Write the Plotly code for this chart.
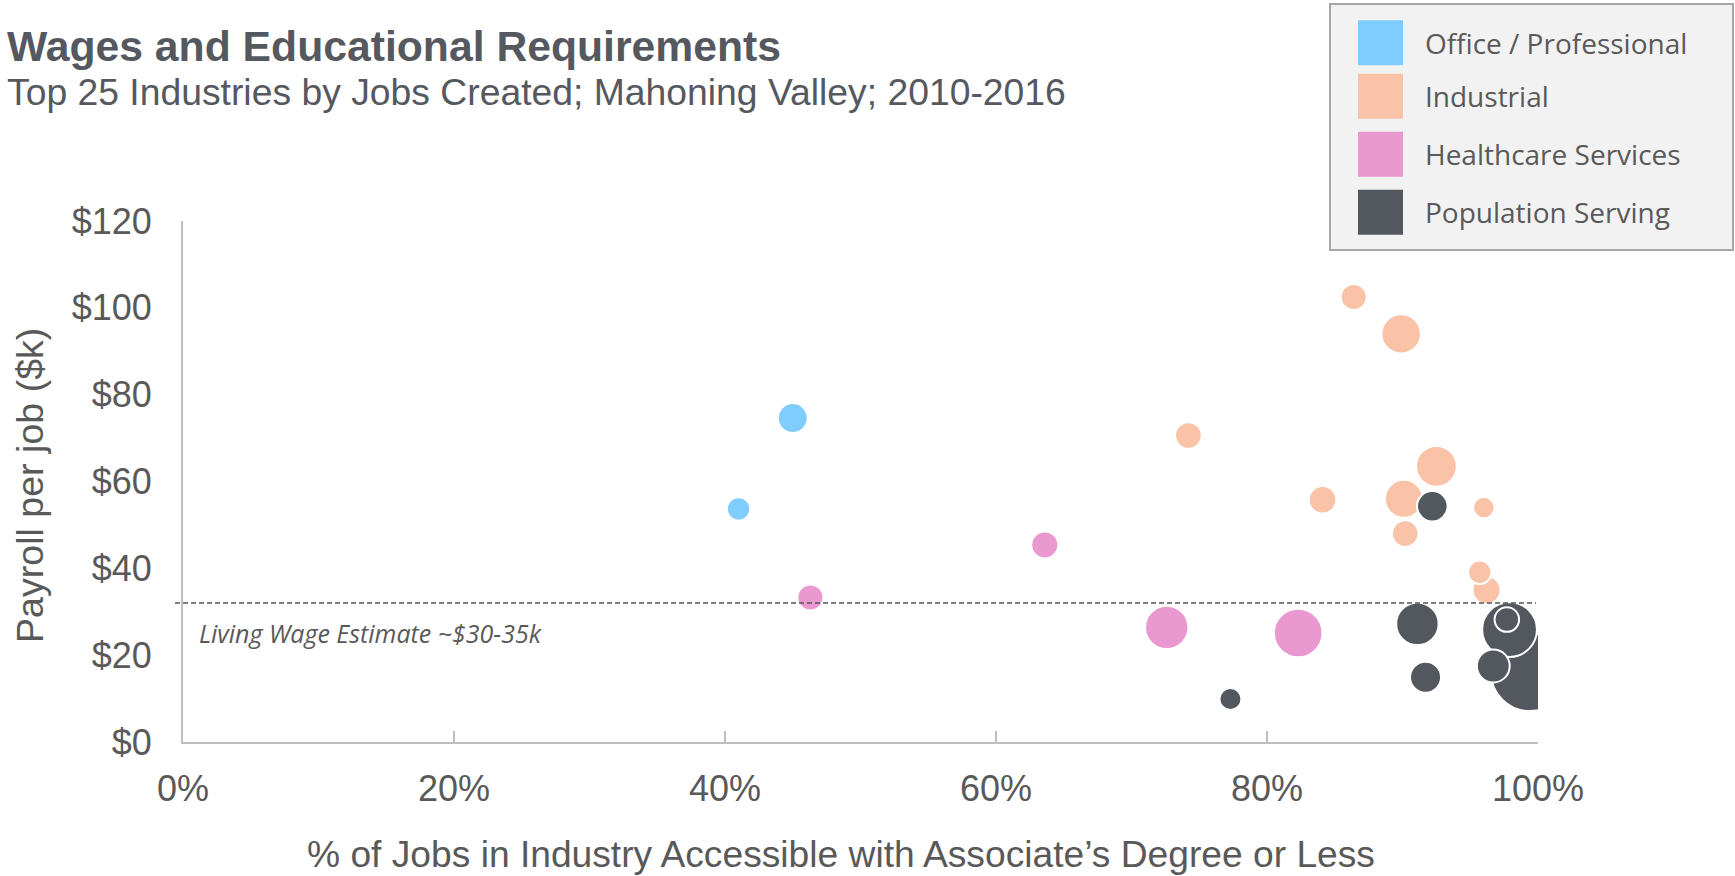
import plotly.graph_objects as go

# ---------------- data ----------------
categories = ["Office / Professional", "Industrial", "Healthcare Services", "Population Serving"]
colors = ["#7FCCFF", "#FAC2A7", "#EA98D0", "#53575E"]

office_x = [0.450, 0.410]
office_y = [74.6, 53.7]
office_jobs = [450, 274]

industrial_x = [0.864, 0.899, 0.742, 0.925, 0.841, 0.901, 0.960, 0.902, 0.962, 0.957]
industrial_y = [102.5, 94.0, 70.6, 63.5, 55.8, 56.0, 54.0, 48.0, 35.0, 39.1]
industrial_jobs = [338, 776, 354, 832, 381, 722, 229, 354, 392, 274]

health_x = [0.636, 0.463, 0.726, 0.823]
health_y = [45.4, 33.3, 26.4, 25.1]
health_jobs = [365, 338, 942, 1181]

pop_x = [0.922, 0.911, 0.994, 0.979, 0.977, 0.967, 0.917, 0.773]
pop_y = [54.3, 27.2, 16.1, 25.9, 28.2, 17.5, 14.9, 9.9]
pop_jobs = [468, 900, 3042, 1500, 300, 540, 480, 242]

living_wage = 32
living_wage_label = "Living Wage Estimate ~$30-35k"

x_ticks = [0, 0.2, 0.4, 0.6, 0.8, 1.0]
x_tick_labels = ["0%", "20%", "40%", "60%", "80%", "100%"]
y_ticks = [0, 20, 40, 60, 80, 100, 120]
y_tick_labels = ["$0", "$20", "$40", "$60", "$80", "$100", "$120"]

title = "Wages and Educational Requirements"
subtitle = "Top 25 Industries by Jobs Created; Mahoning Valley; 2010-2016"
x_title = "% of Jobs in Industry Accessible with Associate’s Degree or Less"
y_title = "Payroll per job ($k)"

# ---------------- layout helpers ----------------
W, H = 1735, 876
L, R, T, B = 183, 1538, 221, 742


def px(x):
    return (x - L) / (R - L)


def py(y):
    return (B - y) / (B - T)


TEXT = "#595959"
AXIS_FONT = "Liberation Sans, Arial, sans-serif"
LEG_FONT = "Open Sans, sans-serif"

series = [
    (office_x, office_y, office_jobs),
    (industrial_x, industrial_y, industrial_jobs),
    (health_x, health_y, health_jobs),
    (pop_x, pop_y, pop_jobs),
]

fig = go.Figure()
for name, color, (xs, ys, js) in zip(categories, colors, series):
    fig.add_trace(go.Scatter(
        x=xs, y=ys, mode="markers", name=name, showlegend=False,
        marker=dict(size=js, sizemode="area", sizeref=1, color=color,
                    opacity=1, line=dict(color="white", width=2)),
        cliponaxis=True,
    ))

shapes = []
annotations = []

# living wage reference line
shapes.append(dict(type="line", xref="paper", yref="y", x0=px(175), x1=px(1536),
                   y0=living_wage, y1=living_wage,
                   line=dict(color="#555555", width=1.4, dash="5px,3px")))
annotations.append(dict(xref="paper", yref="paper", x=px(197), y=py(633),
                        xanchor="left", yanchor="middle", showarrow=False,
                        text="<i>" + living_wage_label + "</i>",
                        font=dict(family=LEG_FONT, size=25, color=TEXT)))

# custom legend
shapes.append(dict(type="rect", xref="paper", yref="paper",
                   x0=px(1330), x1=px(1733), y0=py(4), y1=py(250),
                   fillcolor="#F2F2F2", line=dict(color="#A6A6A6", width=2), layer="above"))
leg_centers = [42.7, 96.3, 154.3, 212.3]
for name, color, cy in zip(categories, colors, leg_centers):
    shapes.append(dict(type="rect", xref="paper", yref="paper",
                       x0=px(1358), x1=px(1403), y0=py(cy - 22.5), y1=py(cy + 22.5),
                       fillcolor=color, line=dict(width=0), layer="above"))
    annotations.append(dict(xref="paper", yref="paper", x=px(1423), y=py(cy),
                            xanchor="left", yanchor="middle", showarrow=False,
                            text=name, font=dict(family=LEG_FONT, size=28, color=TEXT)))

# titles
annotations.append(dict(xref="paper", yref="paper", x=px(5), y=py(46),
                        xanchor="left", yanchor="middle", showarrow=False,
                        text="<b>" + title + "</b>",
                        font=dict(family=AXIS_FONT, size=42.7, color="#55595F")))
annotations.append(dict(xref="paper", yref="paper", x=px(5), y=py(92),
                        xanchor="left", yanchor="middle", showarrow=False,
                        text=subtitle,
                        font=dict(family=AXIS_FONT, size=37.3, color="#55595F")))

# axis titles
annotations.append(dict(xref="paper", yref="paper", x=px(841), y=py(854),
                        xanchor="center", yanchor="middle", showarrow=False,
                        text=x_title,
                        font=dict(family=AXIS_FONT, size=37.2, color=TEXT)))
annotations.append(dict(xref="paper", yref="paper", x=px(30), y=py(486),
                        xanchor="center", yanchor="middle", showarrow=False,
                        textangle=-90, text=y_title,
                        font=dict(family=AXIS_FONT, size=37.6, color=TEXT)))

fig.update_layout(
    width=W, height=H,
    margin=dict(l=L, r=W - R, t=T, b=H - B, autoexpand=False),
    paper_bgcolor="white", plot_bgcolor="white",
    showlegend=False,
    shapes=shapes, annotations=annotations,
    font=dict(family=AXIS_FONT, color=TEXT),
)
fig.update_xaxes(
    range=[0, 1], tickvals=x_ticks, ticktext=x_tick_labels,
    showline=True, linecolor="#BFBFBF", linewidth=2,
    ticks="inside", ticklen=11, tickwidth=2, tickcolor="#BFBFBF",
    showgrid=False, zeroline=False,
    tickfont=dict(family=AXIS_FONT, size=36, color=TEXT),
    ticklabelstandoff=14,
)
fig.update_yaxes(
    range=[0, 120], tickvals=y_ticks, ticktext=y_tick_labels,
    showline=True, linecolor="#BFBFBF", linewidth=2,
    ticks="", showgrid=False, zeroline=False,
    tickfont=dict(family=AXIS_FONT, size=36, color=TEXT),
    ticklabelstandoff=22,
)

fig.write_html(
    "out.html",
    config={"displayModeBar": False},
    post_script="document.body.style.margin='0';document.body.style.overflow='hidden';",
)
